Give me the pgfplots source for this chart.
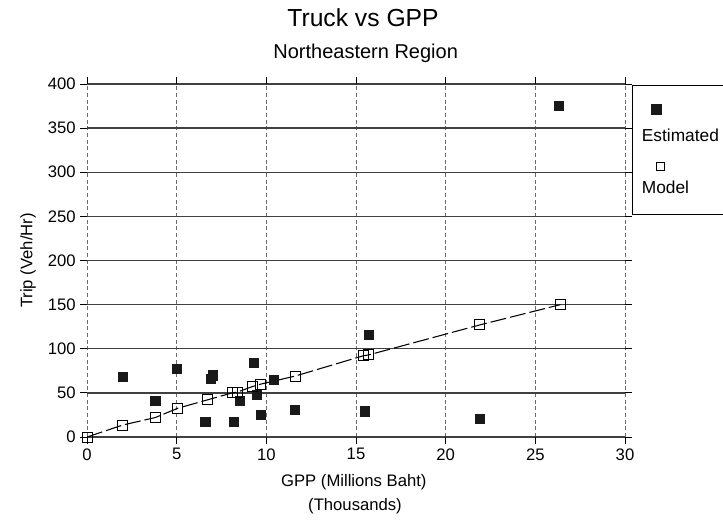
\documentclass[border=0pt]{standalone}
\usepackage{pgfplots}
\pgfplotsset{compat=1.18}
\usepackage{fontspec}
\setmainfont{Liberation Sans}
\pgfplotsset{
  estleg/.style={legend image code/.code={\path[draw=none,fill=none] (0,-6pt) -- (0,34pt); \draw[##1, overlay] plot coordinates {(11pt,20pt)};}},
  modleg/.style={legend image code/.code={\path[draw=none,fill=none] (0,-16pt) -- (0,33pt); \draw[##1, overlay, mark size=3pt] plot coordinates {(14pt,16pt)};}},
}
\pgfplotstableread{
x y
2.0 68
3.8 41
5.0 77
6.6 17
6.9 66
7.0 70
8.2 17
8.5 41
9.3 84
9.45 48
9.7 25
10.4 65
11.6 31
15.5 29
15.7 116
21.9 21
26.3 375
}\estimated
\pgfplotstableread{
x y
0 0
2.0 13.6
3.8 22
5.05 32.5
6.7 42
8.1 50
8.4 51
9.2 57
9.7 60
11.6 69
15.4 92
15.7 93
21.9 127
26.4 150
}\model
\begin{document}
\begin{tikzpicture}
\begin{axis}[
  name=ax, scale only axis, width=403.5pt, height=264.75pt,
  xmin=0, xmax=30, ymin=0, ymax=400,
  xtick={0,5,...,30}, ytick={0,50,...,400},
  axis line style={draw=none},
  xmajorgrids, ymajorgrids,
  x grid style={gray!85!black, dash pattern=on 3pt off 2pt, line width=0.6pt},
  y grid style={black!75, line width=1pt},
  tick style={black, line width=0.6pt},
  tick align=outside, major tick length=5pt,
  /pgf/number format/assume math mode=true,
  tick label style={font=\fontsize{12.5}{12.5}\selectfont},
  xlabel={GPP (Millions Baht)},
  xlabel style={at={(axis description cs:0.496,-0.1398)}, anchor=base, font=\fontsize{12.5}{12.5}\selectfont},
  ylabel={Trip (Veh/Hr)},
  ylabel style={at={(axis description cs:-0.1016,0.5)}, anchor=base, font=\fontsize{12.5}{12.5}\selectfont},
  legend cell align=left,
  legend style={at={(rel axis cs:1,1)}, anchor=north west, xshift=5.25pt, yshift=-0.75pt,
    draw=black, line width=0.8pt, inner xsep=7pt, inner ysep=4pt, row sep=0pt, column sep=0pt,
    nodes={inner sep=0pt, font=\fontsize{13}{13}\selectfont}},
]
\addplot[only marks, mark=square*, mark size=3.5pt, mark options={fill=black!90, draw=black!90}, estleg]
  table {\estimated};
\addlegendentry{Estimated}
\addplot[black, line width=0.8pt, dash pattern=on 12pt off 3pt, mark=square, mark size=3.75pt,
  mark options={solid, fill=white, line width=0.7pt}, modleg]
  table {\model};
\addlegendentry{Model}
\end{axis}
\node[anchor=base, font=\fontsize{18.5}{18.5}\selectfont] at ([xshift=207pt, yshift=43pt]ax.north west) {Truck vs GPP};
\node[anchor=base, font=\fontsize{15}{15}\selectfont] at ([xshift=209pt, yshift=19.5pt]ax.north west) {Northeastern Region};
\node[anchor=base, font=\fontsize{12.5}{12.5}\selectfont] at ([xshift=201pt, yshift=-55pt]ax.south west) {(Thousands)};
\pgfresetboundingbox
\path ([xshift=-65.25pt, yshift=-63.75pt]ax.south west) rectangle ++(542.25pt,391.5pt);
\end{tikzpicture}
\end{document}
